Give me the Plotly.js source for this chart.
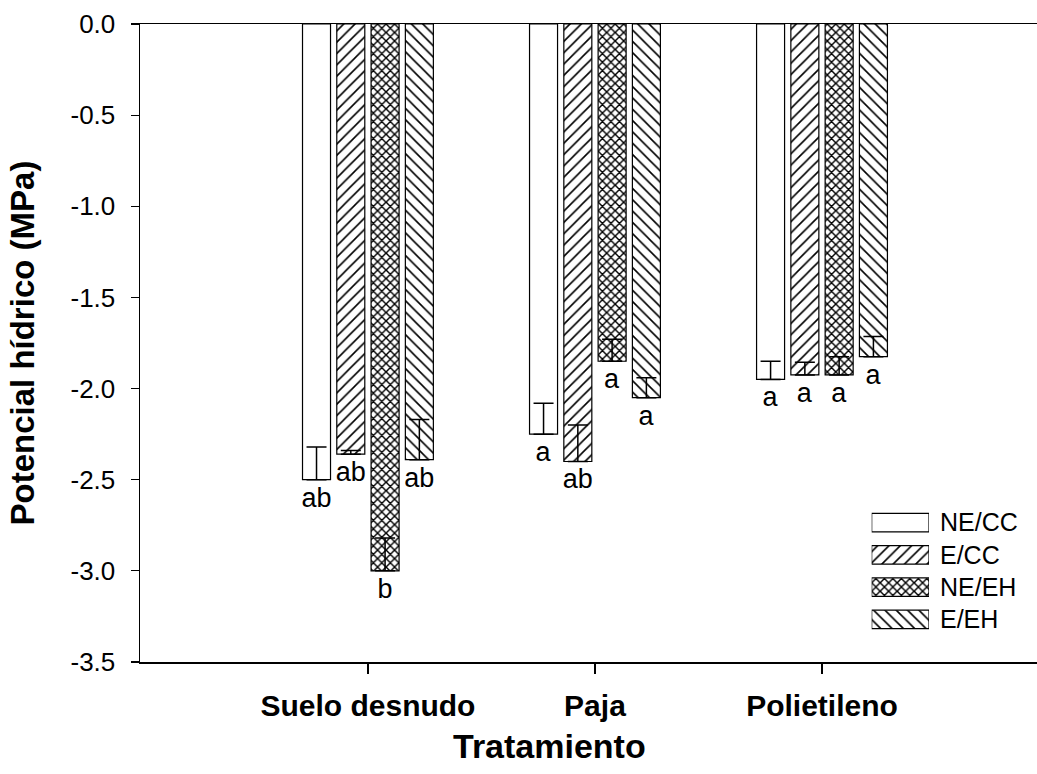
<!DOCTYPE html>
<html>
<head>
<meta charset="utf-8">
<script src="https://cdn.plot.ly/plotly-3.0.1.min.js"></script>
<style>
  html, body { margin: 0; padding: 0; background: #fff; }
  #chart { width: 1037px; height: 774px; }
</style>
</head>
<body>
<div id="chart"></div>
<script>
// Treatments on the x axis
const tratamientos = ['Suelo desnudo', 'Paja', 'Polietileno'];

// Series names (legend order)
const series = ['NE/CC', 'E/CC', 'NE/EH', 'E/EH'];

// Mean water potential (MPa) per treatment, one array per series
const neCC = [-2.50, -2.25, -1.95];
const eCC  = [-2.36, -2.40, -1.925];
const neEH = [-3.00, -1.85, -1.925];
const eEH  = [-2.39, -2.05, -1.825];

// Error bar length (drawn towards zero)
const errNeCC = [0.18, 0.17, 0.10];
const errECC  = [0.02, 0.20, 0.07];
const errNeEH = [0.18, 0.12, 0.10];
const errEEH  = [0.22, 0.11, 0.11];

// Significance letters under each bar
const letNeCC = ['ab', 'a', 'a'];
const letECC  = ['ab', 'ab', 'a'];
const letNeEH = ['b', 'a', 'a'];
const letEEH  = ['ab', 'a', 'a'];

// Y ticks and their labels (plain hyphen for the minus sign)
const yTicks = [0, -0.5, -1.0, -1.5, -2.0, -2.5, -3.0, -3.5];
const yTickText = yTicks.map(v => v.toFixed(1));

const FONT = 'Liberation Sans, Arial, Helvetica, sans-serif';
const shapes = ['', '/', 'x', '\\'];
const sizes = [8, 8, 6, 8];
const solid = [0.2, 0.2, 0.42, 0.2];
const values = [neCC, eCC, neEH, eEH];
const errs = [errNeCC, errECC, errNeEH, errEEH];
const letters = [letNeCC, letECC, letNeEH, letEEH];

const traces = series.map((name, i) => ({
  type: 'bar',
  name: name,
  x: tratamientos,
  y: values[i],
  text: letters[i],
  textposition: 'outside',
  constraintext: 'none',
  cliponaxis: false,
  textfont: { family: FONT, size: 27, color: '#000' },
  marker: {
    color: '#fff',
    line: { color: '#000', width: 1.2 },
    pattern: { shape: shapes[i], size: sizes[i], solidity: solid[i], fgcolor: '#000', bgcolor: '#fff', fillmode: 'replace' }
  },
  error_y: {
    type: 'data', symmetric: false,
    array: errs[i], arrayminus: errs[i].map(() => 0),
    color: '#000', thickness: 1.5, width: 10
  },
  hoverinfo: 'skip',
  showlegend: false
}));

// Legend drawn as a small horizontal-bar panel with the series names as tick labels
traces.push({
  type: 'bar',
  orientation: 'h',
  x: series.map(() => 1),
  y: series,
  width: 0.573,
  xaxis: 'x2',
  yaxis: 'y2',
  marker: {
    color: '#fff',
    line: { color: '#000', width: 1.2 },
    pattern: { shape: shapes, size: sizes, solidity: solid, fgcolor: '#000', bgcolor: '#fff', fillmode: 'replace' }
  },
  hoverinfo: 'skip',
  showlegend: false
});

const layout = {
  width: 1037,
  height: 774,
  margin: { l: 140, r: 0, t: 24, b: 112 },
  paper_bgcolor: '#fff',
  plot_bgcolor: '#fff',
  font: { family: FONT, color: '#000' },
  barmode: 'group',
  bargap: 0.396,
  bargroupgap: 0.183,
  showlegend: false,
  xaxis: {
    type: 'category',
    range: [-1.004, 2.947],
    showline: true, linecolor: '#000', linewidth: 1.5, mirror: true,
    ticks: 'outside', ticklen: 10, tickwidth: 1.2, tickcolor: '#000',
    showgrid: false, zeroline: false,
    tickfont: { family: FONT, size: 30, color: '#000', weight: 'bold' },
    ticklabelstandoff: 6,
    automargin: false
  },
  yaxis: {
    range: [-3.5, 0],
    tickmode: 'array',
    tickvals: yTicks,
    ticktext: yTickText,
    showline: true, linecolor: '#000', linewidth: 1.5,
    ticks: 'outside', ticklen: 8, tickwidth: 1.2, tickcolor: '#000',
    showgrid: false, zeroline: false,
    tickfont: { family: FONT, size: 26, color: '#000' },
    ticklabelstandoff: 10,
    automargin: false
  },
  xaxis2: {
    domain: [0.8157, 0.8796],
    anchor: 'y2',
    range: [0, 1],
    visible: false,
    fixedrange: true
  },
  yaxis2: {
    domain: [0.0414, 0.2439],
    anchor: 'x2',
    side: 'right',
    type: 'category',
    autorange: 'reversed',
    showline: false, showgrid: false, zeroline: false,
    ticks: '',
    tickfont: { family: FONT, size: 25, color: '#000' },
    ticklabelstandoff: 10,
    fixedrange: true
  },
  annotations: [
    {
      text: '<b>Tratamiento</b>',
      xref: 'paper', yref: 'paper',
      x: 0.456, y: -0.132,
      xanchor: 'center', yanchor: 'middle',
      showarrow: false,
      font: { family: FONT, size: 34, color: '#000' }
    },
    {
      text: '<b>Potencial hídrico (MPa)</b>',
      xref: 'paper', yref: 'paper',
      x: -0.131, y: 0.50,
      xanchor: 'center', yanchor: 'middle',
      textangle: -90,
      showarrow: false,
      font: { family: FONT, size: 33, color: '#000' }
    }
  ]
};

Plotly.newPlot('chart', traces, layout, { displayModeBar: false, staticPlot: true });
</script>
</body>
</html>
